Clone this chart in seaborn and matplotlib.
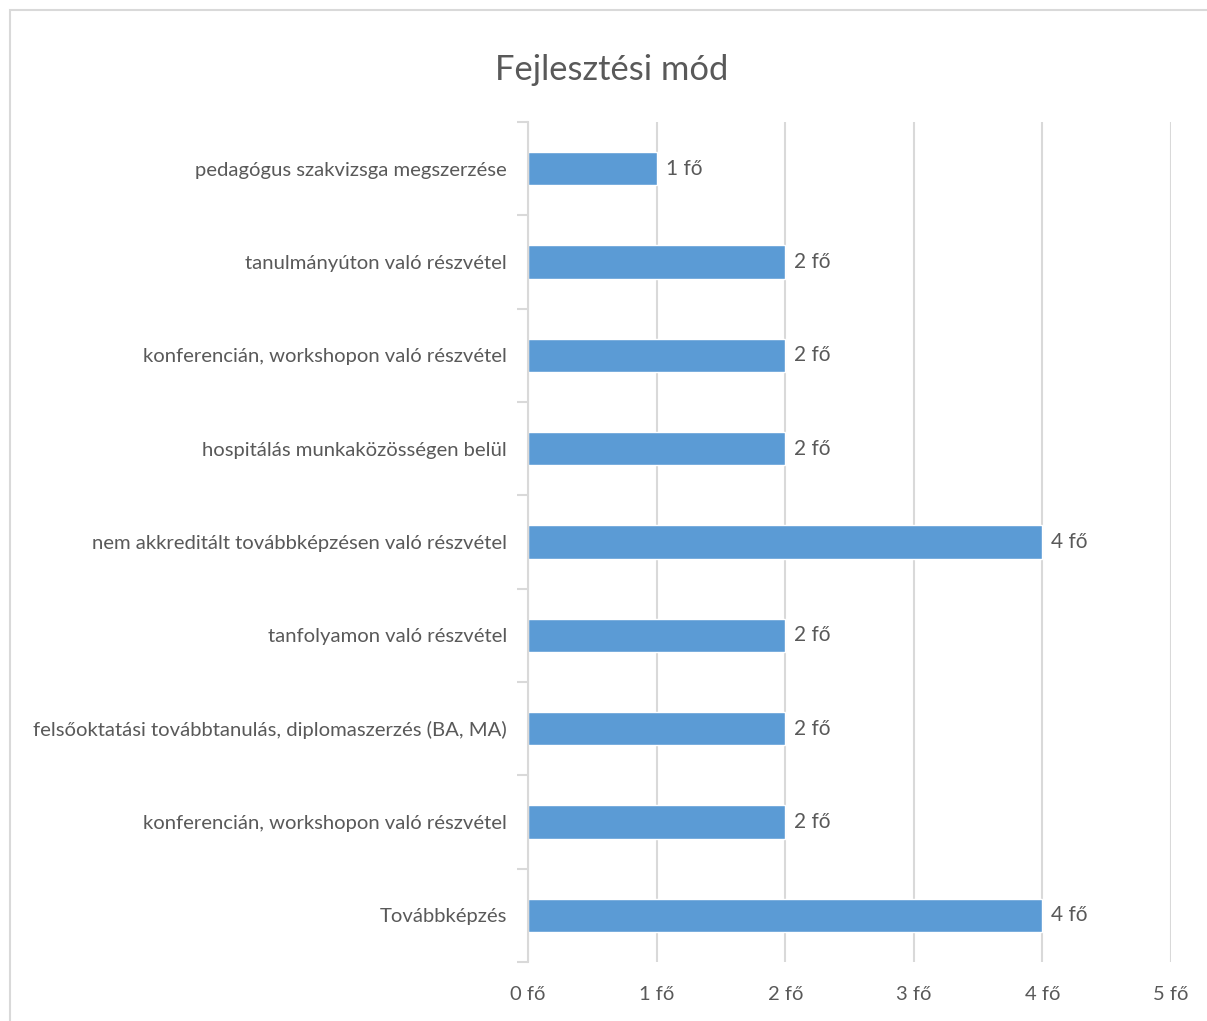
import numpy as np
import pandas as pd
import seaborn as sns
import matplotlib.pyplot as plt
from matplotlib.patches import Rectangle

# data, top to bottom as shown in the chart
categories = [
    "pedagógus szakvizsga megszerzése",
    "tanulmányúton való részvétel",
    "konferencián, workshopon való részvétel",
    "hospitálás munkaközösségen belül",
    "nem akkreditált továbbképzésen való részvétel",
    "tanfolyamon való részvétel",
    "felsőoktatási továbbtanulás, diplomaszerzés (BA, MA)",
    "konferencián, workshopon való részvétel",
    "Továbbképzés",
]
counts = [1, 2, 2, 2, 4, 2, 2, 2, 4]
x_ticks = [0, 1, 2, 3, 4, 5]

title = "Fejlesztési mód"
bar_color = "#5B9BD5"
text_color = "#595959"
grid_color = "#d9d9d9"

sns.set_theme(style="white")
plt.rcParams["font.family"] = ["Lato", "DejaVu Sans"]

# duplicate labels exist, so plot on unique keys and relabel afterwards
df = pd.DataFrame({"key": [f"{i}" for i in range(len(categories))],
                   "label": categories, "count": counts})

fig = plt.figure(figsize=(12.07, 10.21), dpi=100)
ax = fig.add_axes([528 / 1207, 1 - 962 / 1021, (1171 - 528) / 1207, (962 - 122) / 1021])

sns.barplot(data=df, y="key", x="count", orient="h", color=bar_color,
            width=0.36, saturation=1, ax=ax, order=df["key"])

ax.set_xlim(0, 5)
ax.set_ylim(len(categories) - 0.5, -0.5)
ax.set_xticks(x_ticks)
ax.set_xticklabels([f"{v} fő" for v in x_ticks], fontsize=14.5, color=text_color)
ax.set_yticks(range(len(categories)))
ax.set_yticklabels(categories, fontsize=14.6, color=text_color)
ax.set_xlabel("")
ax.set_ylabel("")

# vertical gridlines only
ax.xaxis.grid(True, color=grid_color, linewidth=1.5)
ax.set_axisbelow(True)
for s in ["top", "right", "bottom"]:
    ax.spines[s].set_visible(False)
ax.spines["left"].set_color(grid_color)
ax.spines["left"].set_linewidth(1.5)

# tick marks between categories on the y axis
ax.set_yticks(np.arange(-0.5, len(categories)), minor=True)
ax.tick_params(axis="y", which="minor", length=8, width=1.5, color=grid_color, left=True)
ax.tick_params(axis="y", which="major", length=0, pad=15)
ax.tick_params(axis="x", length=0, pad=17)

for i, v in enumerate(counts):
    ax.text(v + 0.07, i, f"{v} fő", va="center", ha="left", fontsize=15, color=text_color)

fig.text(612 / 1207, 1 - 70 / 1021, title, ha="center", va="center",
         fontsize=24.8, color=text_color)

# chart border
fig.patches.append(Rectangle((10 / 1207, -0.1), 1.2, 1 - 10 / 1021 + 0.1,
                             transform=fig.transFigure, fill=False,
                             edgecolor=grid_color, linewidth=1.5))

fig.savefig("out.png", dpi=100)
